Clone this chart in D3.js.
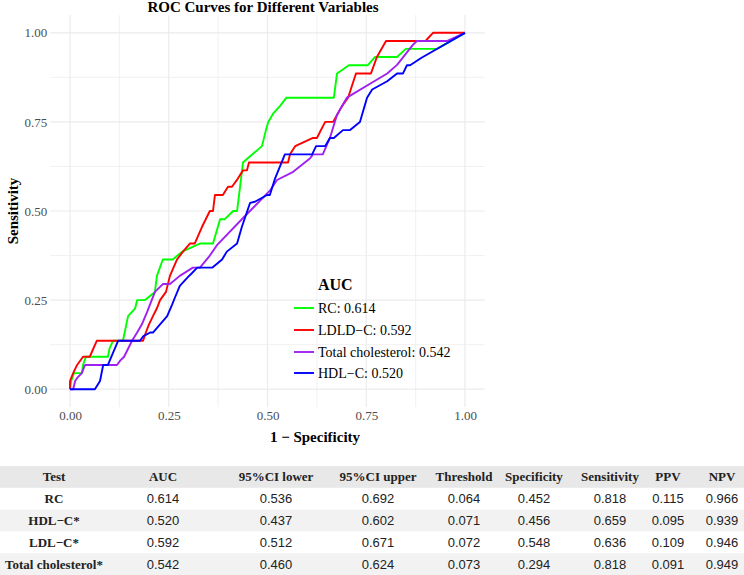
<!DOCTYPE html>
<html><head><meta charset="utf-8">
<script src="https://cdn.jsdelivr.net/npm/d3@7"></script>
<style>
html,body{margin:0;padding:0;background:#fff;}
svg{display:block;}
</style></head>
<body>
<svg id="chart" width="744" height="575"></svg>
<script>
// ---------------- DATA ----------------
const seriesNames = ["RC", "LDLD−C", "Total cholesterol", "HDL−C"];
const seriesAUC = ["0.614", "0.592", "0.542", "0.520"];
const seriesColors = ["#00ff00", "#ff0000", "#a020f0", "#0000ff"];

// ROC points: [1 - specificity, sensitivity]
const rocRC = [[0,0],[0.003,0.023],[0.01,0.045],[0.03,0.045],[0.033,0.068],[0.04,0.091],[0.096,0.091],[0.10,0.114],[0.109,0.136],[0.134,0.136],[0.147,0.205],[0.165,0.227],[0.17,0.25],[0.19,0.25],[0.215,0.273],[0.22,0.318],[0.235,0.364],[0.26,0.364],[0.284,0.386],[0.33,0.409],[0.362,0.409],[0.38,0.477],[0.392,0.477],[0.413,0.5],[0.423,0.5],[0.438,0.636],[0.45,0.648],[0.486,0.682],[0.496,0.727],[0.502,0.75],[0.514,0.773],[0.532,0.795],[0.548,0.818],[0.668,0.818],[0.676,0.886],[0.706,0.909],[0.754,0.909],[0.772,0.932],[0.828,0.932],[0.85,0.955],[0.929,0.955],[1,1]];
const rocLDL = [[0,0],[0,0.023],[0.008,0.045],[0.018,0.068],[0.033,0.091],[0.05,0.091],[0.068,0.136],[0.185,0.136],[0.192,0.159],[0.2,0.182],[0.21,0.205],[0.22,0.227],[0.228,0.25],[0.243,0.273],[0.253,0.318],[0.271,0.364],[0.286,0.386],[0.304,0.409],[0.316,0.409],[0.334,0.455],[0.354,0.5],[0.362,0.5],[0.367,0.545],[0.387,0.545],[0.4,0.568],[0.41,0.568],[0.425,0.591],[0.438,0.614],[0.448,0.614],[0.453,0.636],[0.552,0.636],[0.557,0.659],[0.57,0.682],[0.615,0.705],[0.625,0.705],[0.646,0.75],[0.666,0.75],[0.689,0.795],[0.704,0.818],[0.724,0.886],[0.762,0.886],[0.777,0.932],[0.8,0.977],[0.9,0.977],[0.919,1],[1,1]];
const rocTC = [[0,0],[0.008,0],[0.013,0.023],[0.02,0.034],[0.03,0.045],[0.038,0.068],[0.119,0.068],[0.127,0.08],[0.137,0.091],[0.157,0.136],[0.17,0.159],[0.182,0.182],[0.195,0.216],[0.215,0.273],[0.235,0.295],[0.253,0.295],[0.278,0.318],[0.311,0.341],[0.329,0.341],[0.354,0.375],[0.372,0.404],[0.443,0.486],[0.506,0.557],[0.524,0.587],[0.565,0.61],[0.608,0.648],[0.615,0.659],[0.64,0.659],[0.658,0.705],[0.676,0.77],[0.701,0.818],[0.767,0.862],[0.803,0.886],[0.828,0.91],[0.868,0.966],[0.878,0.977],[0.954,0.977],[1,1]];
const rocHDL = [[0,0],[0.063,0],[0.076,0.023],[0.084,0.068],[0.096,0.068],[0.122,0.136],[0.177,0.136],[0.185,0.148],[0.203,0.159],[0.21,0.159],[0.228,0.182],[0.246,0.205],[0.258,0.236],[0.266,0.258],[0.278,0.29],[0.299,0.315],[0.309,0.326],[0.322,0.341],[0.36,0.341],[0.385,0.364],[0.397,0.386],[0.423,0.409],[0.435,0.455],[0.456,0.523],[0.468,0.526],[0.499,0.545],[0.506,0.545],[0.519,0.591],[0.544,0.659],[0.613,0.659],[0.623,0.682],[0.646,0.682],[0.658,0.705],[0.668,0.705],[0.691,0.727],[0.709,0.727],[0.734,0.75],[0.752,0.818],[0.765,0.841],[0.803,0.864],[0.828,0.886],[0.843,0.886],[0.853,0.909],[0.861,0.909],[0.89,0.93],[1,1]];
const seriesPoints = [rocRC, rocLDL, rocTC, rocHDL];

const axisTicks = [0, 0.25, 0.5, 0.75, 1];
const minorTicks = [0.125, 0.375, 0.625, 0.875];

// Table
const tableHeaders = ["Test", "AUC", "95%CI lower", "95%CI upper", "Threshold", "Specificity", "Sensitivity", "PPV", "NPV"];
const tableTests = ["RC", "HDL−C*", "LDL−C*", "Total cholesterol*"];
const tableAUC = ["0.614", "0.520", "0.592", "0.542"];
const tableCILower = ["0.536", "0.437", "0.512", "0.460"];
const tableCIUpper = ["0.692", "0.602", "0.671", "0.624"];
const tableThreshold = ["0.064", "0.071", "0.072", "0.073"];
const tableSpecificity = ["0.452", "0.456", "0.548", "0.294"];
const tableSensitivity = ["0.818", "0.659", "0.636", "0.818"];
const tablePPV = ["0.115", "0.095", "0.109", "0.091"];
const tableNPV = ["0.966", "0.939", "0.946", "0.949"];

// ---------------- DRAW ----------------
const svg = d3.select("#chart");
const serif = "'Liberation Serif', 'Times New Roman', serif";
const sans = "'Liberation Sans', Arial, sans-serif";

const panel = {left: 50.25, right: 484.75, top: 15, bottom: 407};
const x = d3.scaleLinear().domain([-0.05, 1.05]).range([panel.left, panel.right]);
const y = d3.scaleLinear().domain([-0.05, 1.05]).range([panel.bottom, panel.top]);

const grid = svg.append("g");
minorTicks.forEach(t => {
  grid.append("line").attr("x1", x(t)).attr("x2", x(t)).attr("y1", panel.top).attr("y2", panel.bottom)
    .attr("stroke", "#ededed").attr("stroke-width", 0.8);
  grid.append("line").attr("y1", y(t)).attr("y2", y(t)).attr("x1", panel.left).attr("x2", panel.right)
    .attr("stroke", "#ededed").attr("stroke-width", 0.8);
});
axisTicks.forEach(t => {
  grid.append("line").attr("x1", x(t)).attr("x2", x(t)).attr("y1", panel.top).attr("y2", panel.bottom)
    .attr("stroke", "#ebebeb").attr("stroke-width", 1.2);
  grid.append("line").attr("y1", y(t)).attr("y2", y(t)).attr("x1", panel.left).attr("x2", panel.right)
    .attr("stroke", "#ebebeb").attr("stroke-width", 1.2);
});

// axes
const fmt = d3.format(".2f");
const xAxis = svg.append("g").attr("transform", `translate(0,${panel.bottom})`)
  .call(d3.axisBottom(x).tickValues(axisTicks).tickFormat(fmt).tickSize(0).tickPadding(4));
const yAxis = svg.append("g").attr("transform", `translate(${panel.left},0)`)
  .call(d3.axisLeft(y).tickValues(axisTicks).tickFormat(fmt).tickSize(0).tickPadding(3));
[xAxis, yAxis].forEach(a => {
  a.select(".domain").remove();
  a.selectAll("text").attr("font-family", serif).attr("font-size", 13).attr("fill", "#4d4d4d");
});

// lines
const line = d3.line().x(d => x(d[0])).y(d => y(d[1]));
seriesPoints.forEach((pts, i) => {
  svg.append("path").datum(pts).attr("d", line)
    .attr("fill", "none").attr("stroke", seriesColors[i]).attr("stroke-width", 1.9)
    .attr("stroke-linejoin", "round");
});

// titles
svg.append("text").attr("x", 263).attr("y", 12)
  .attr("text-anchor", "middle").attr("font-family", serif).attr("font-weight", "bold")
  .attr("font-size", 15).attr("fill", "#000").text("ROC Curves for Different Variables");
svg.append("text").attr("x", 315).attr("y", 442)
  .attr("text-anchor", "middle").attr("font-family", serif).attr("font-weight", "bold")
  .attr("font-size", 15).attr("fill", "#000").text("1 − Specificity");
svg.append("text").attr("transform", `translate(18,${(panel.top + panel.bottom) / 2}) rotate(-90)`)
  .attr("text-anchor", "middle").attr("font-family", serif).attr("font-weight", "bold")
  .attr("font-size", 15).attr("fill", "#000").text("Sensitivity");

// legend
const lg = svg.append("g");
lg.append("text").attr("x", 318).attr("y", 290).attr("font-family", serif).attr("font-weight", "bold")
  .attr("font-size", 16).attr("fill", "#000").text("AUC");
const legendY = [308, 330, 352, 373];
seriesNames.forEach((n, i) => {
  lg.append("line").attr("x1", 294).attr("x2", 314).attr("y1", legendY[i]).attr("y2", legendY[i])
    .attr("stroke", seriesColors[i]).attr("stroke-width", 1.9);
  lg.append("text").attr("x", 318).attr("y", legendY[i] + 4.8).attr("font-family", serif)
    .attr("font-size", 14).attr("fill", "#000").text(`${n}: ${seriesAUC[i]}`);
});

// table
const colX = [54, 163, 276, 378, 464, 534, 610, 668, 722];
const rowTop = 466, rowH = 21.8;
const tbl = svg.append("g");
tbl.append("rect").attr("x", 0).attr("y", rowTop).attr("width", 744).attr("height", rowH).attr("fill", "#e8e8e8");
[1, 3].forEach(r => {
  tbl.append("rect").attr("x", 0).attr("y", rowTop + rowH * (r + 1)).attr("width", 744).attr("height", rowH).attr("fill", "#f2f2f2");
});
tableHeaders.forEach((h, j) => {
  tbl.append("text").attr("x", colX[j]).attr("y", rowTop + rowH / 2 + 4.5).attr("text-anchor", "middle")
    .attr("font-family", serif).attr("font-weight", "bold").attr("font-size", 13).attr("fill", "#222").text(h);
});
const cols = [tableAUC, tableCILower, tableCIUpper, tableThreshold, tableSpecificity, tableSensitivity, tablePPV, tableNPV];
tableTests.forEach((t, r) => {
  const cy = rowTop + rowH * (r + 1) + rowH / 2 + 4.5;
  tbl.append("text").attr("x", colX[0]).attr("y", cy).attr("text-anchor", "middle")
    .attr("font-family", serif).attr("font-weight", "bold").attr("font-size", 13).attr("fill", "#222").text(t);
  cols.forEach((c, j) => {
    tbl.append("text").attr("x", colX[j + 1]).attr("y", cy).attr("text-anchor", "middle")
      .attr("font-family", sans).attr("font-size", 13).attr("fill", "#222").text(c[r]);
  });
});
</script>
</body></html>
